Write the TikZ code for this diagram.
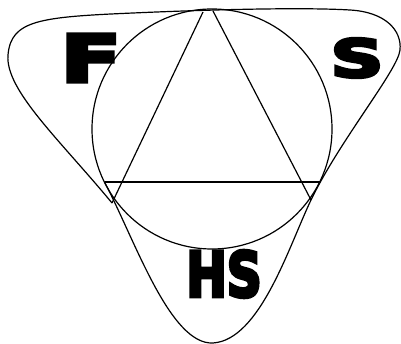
\documentclass[tikz,border=0pt]{standalone}
\usepackage{fontspec}
\newfontfamily\heavy{DejaVu Sans Bold}[FakeBold=6]
\begin{document}
\begin{tikzpicture}[x=1pt,y=-1pt,
  outline/.style={line width=1.2pt,line join=round},
  letter/.style={inner sep=0pt,font=\heavy}]
\useasboundingbox (0,0) rectangle (401,344);
% key points
\coordinate (Ftip) at (112,203);
\coordinate (Stip) at (311,200);
\coordinate (Ftop) at (203,12);
\coordinate (Stop) at (213,11);
\coordinate (HL) at (104.5,182);
\coordinate (HR) at (320,182);
\coordinate (TL) at (8,55);
\coordinate (TM) at (133,13);
\coordinate (TR) at (350,10);
\coordinate (RC) at (400,50);
\coordinate (Bot) at (213,343);
\node[circle,draw,line width=1.2pt,minimum size=240pt,inner sep=0pt] (circ) at (212,129) {};
% big outline
\draw[outline] (Ftip) .. controls (60,140) and (5,90) .. (TL)
  .. controls (11,20) and (40,17) .. (TM)
  .. controls (200,10) and (300,7) .. (TR)
  .. controls (385,12) and (402,30) .. (RC)
  .. controls (398,70) and (340,140) .. (Stip)
  .. controls (289,246) and (260,340) .. (Bot)
  .. controls (170,345) and (135,240) .. (HL);
% triangle sides and chord
\draw[outline] (Ftip) -- (Ftop);
\draw[outline] (Stip) -- (Stop);
\draw[outline] (HL) -- (HR);
% letters
\node[letter] (F) at (91,58) {\fontsize{65}{65}\selectfont\scalebox{1.35}[1]{F}};
\node[letter] (S) at (357,58) {\fontsize{52}{52}\selectfont\scalebox{1.4}[1]{S}};
\node[letter] (HS) at (224,274) {\fontsize{62}{62}\selectfont\scalebox{0.78}[1]{HS}};
\end{tikzpicture}
\end{document}
